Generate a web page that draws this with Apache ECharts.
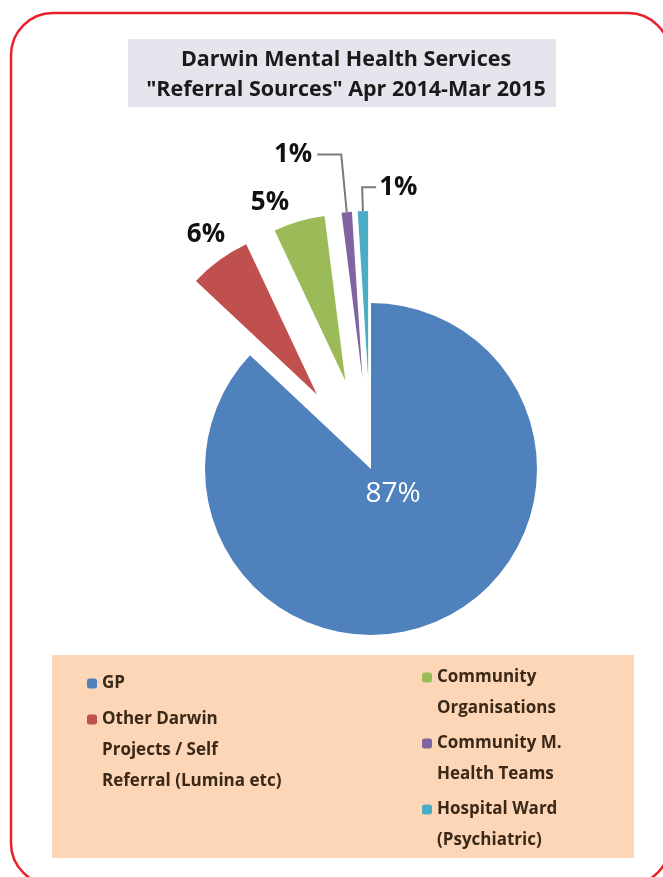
<!DOCTYPE html>
<html>
<head>
<meta charset="utf-8">
<script src="https://cdn.jsdelivr.net/npm/echarts@6/dist/echarts.min.js"></script>
<style>
html,body{margin:0;padding:0;background:#fff;}
#chart{width:663px;height:877px;}
</style>
</head>
<body>
<div id="chart"></div>
<script>
// ---- data ----
var titleLines = ['Darwin Mental Health Services', '"Referral Sources" Apr 2014-Mar 2015'];
var categories = [
  'GP',
  'Other Darwin Projects / Self Referral (Lumina etc)',
  'Community Organisations',
  'Community M. Health Teams',
  'Hospital Ward (Psychiatric)'
];
var legendText = [
  'GP',
  'Other Darwin\nProjects / Self\nReferral (Lumina etc)',
  'Community\nOrganisations',
  'Community M.\nHealth Teams',
  'Hospital Ward\n(Psychiatric)'
];
var values = [87, 6, 5, 1, 1];
var exploded = [false, true, true, true, true];
var colors = ['#4f81bd', '#c0504d', '#9bbb59', '#8064a2', '#4bacc6'];

// ---- chart ----
var chart = echarts.init(document.getElementById('chart'));
var FONT = '"Open Sans", Lato, sans-serif';
var LH = 31;

// Pad the legend text with leading empty lines so that the icon lines up with the first text line
function legendLabel(name){
  var t = legendText[categories.indexOf(name)];
  var n = t.split('\n').length;
  return new Array(n).join('\n') + t;
}

var pieData = categories.map(function(name, i){
  var item = {
    name: name,
    value: values[i],
    selected: exploded[i],
    itemStyle: {color: colors[i]}
  };
  if (i === 0) {
    item.label = {position: 'center', color: '#ffffff', fontWeight: 'normal', fontSize: 28};
  }
  if (i === 3) item.labelLine = {show: true, length: 58, length2: 24};
  if (i === 4) item.labelLine = {show: true, length: 24, length2: 14};
  return item;
});

var option = {
  animation: false,
  backgroundColor: '#ffffff',
  title: {
    text: titleLines.join('\n'),
    left: 341, top: 40, textAlign: 'center',
    textStyle: {fontFamily: FONT, fontSize: 21.5, fontWeight: 'bold', color: '#1a1a1a', lineHeight: 30}
  },
  graphic: [
    {type: 'rect', shape: {x: 11, y: 13, width: 659, height: 872, r: 42},
     style: {fill: 'none', stroke: '#e8202a', lineWidth: 2.5}, z: -10},
    {type: 'rect', shape: {x: 128, y: 39, width: 428, height: 68},
     style: {fill: '#e6e4ec'}, z: -10},
    {type: 'rect', shape: {x: 52, y: 655, width: 582, height: 203},
     style: {fill: '#fcd6b6'}, z: -10}
  ],
  legend: [
    {
      orient: 'vertical', left: 82, top: 637, height: 400,
      itemWidth: 10, itemHeight: 10, itemGap: -57,
      data: [categories[0], categories[1]],
      formatter: legendLabel,
      textStyle: {fontFamily: FONT, fontSize: 17, fontWeight: 'bold', color: '#3a2818', lineHeight: LH},
      selectedMode: false
    },
    {
      orient: 'vertical', left: 417, top: 626, height: 400,
      itemWidth: 10, itemHeight: 10, itemGap: -27,
      data: [categories[2], categories[3], categories[4]],
      formatter: legendLabel,
      textStyle: {fontFamily: FONT, fontSize: 17, fontWeight: 'bold', color: '#3a2818', lineHeight: LH},
      selectedMode: false
    }
  ],
  series: [{
    type: 'pie',
    center: [371, 469],
    radius: 166,
    startAngle: 90,
    clockwise: true,
    selectedMode: 'multiple',
    selectedOffset: 92,
    avoidLabelOverlap: false,
    silent: true,
    data: pieData,
    label: {
      show: true, position: 'outside', formatter: '{d}%',
      fontFamily: FONT, fontSize: 26, fontWeight: 'bold', color: '#111111'
    },
    labelLine: {show: false, length: 14, length2: 6, lineStyle: {color: '#7a7a7a', width: 2}},
    labelLayout: function(p){
      if (p.dataIndex === 0) return {dx: 22, dy: 25};
      if (p.dataIndex === 1) return {dx: 25, dy: -14};
      if (p.dataIndex === 2) return {dx: 5, dy: -5};
      if (p.dataIndex === 4 && p.labelLinePoints) {
        // mirror the horizontal part of the leader line to the right side
        var pts = p.labelLinePoints;
        var p2 = [2 * pts[1][0] - pts[2][0], pts[2][1]];
        return {dx: (p2[0] - pts[2][0]) + p.labelRect.width + 8, dy: 0,
                labelLinePoints: [pts[0], pts[1], p2]};
      }
    },
    emphasis: {disabled: true}
  }]
};
chart.setOption(option);
</script>
</body>
</html>
